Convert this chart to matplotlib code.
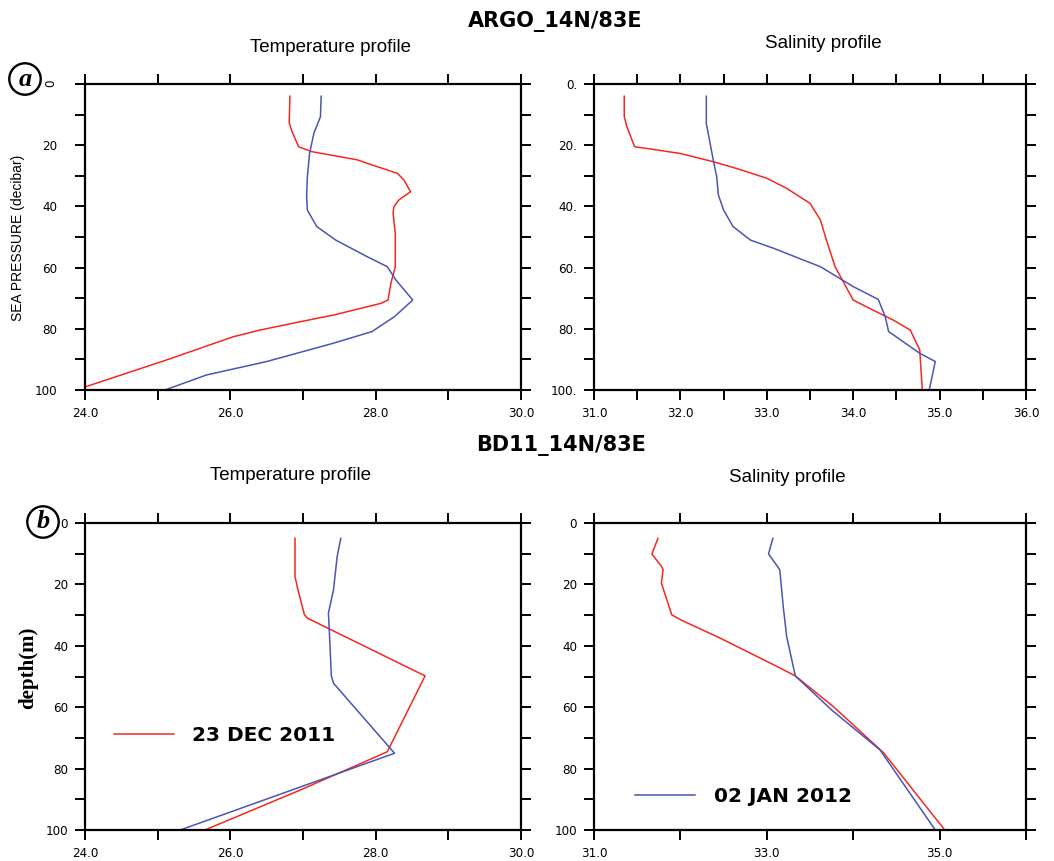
import numpy as np
import matplotlib
matplotlib.use("Agg")
import matplotlib.pyplot as plt

RED = "#f5281e"
BLUE = "#4a55b5"

# ARGO float, temperature (degC) vs pressure (decibar)
argo_t_red_p = [4, 12.6, 15.6, 20.5, 22.1, 24.8, 25.9, 29.2, 31.4, 35.2, 37.9, 40.1, 42.3,
                48.8, 59.7, 65.1, 70.6, 71.7, 75.5, 77.7, 80.4, 82.6, 90.2, 99.0]
argo_t_red = [26.82, 26.81, 26.85, 26.94, 27.12, 27.75, 27.88, 28.30, 28.39, 28.48, 28.32, 28.25,
              28.24, 28.27, 28.27, 28.21, 28.17, 28.07, 27.42, 26.96, 26.41, 26.04, 25.12, 24.0]
argo_t_blue_p = [4, 10.7, 16.1, 22.7, 30.3, 36.8, 41.2, 46.6, 51.0, 56.4, 59.7, 64.1, 70.6,
                 76.0, 80.9, 84.7, 90.7, 95.1, 100]
argo_t_blue = [27.25, 27.24, 27.15, 27.09, 27.06, 27.05, 27.06, 27.19, 27.45, 27.88, 28.16,
               28.28, 28.51, 28.26, 27.95, 27.42, 26.50, 25.67, 25.10]

# ARGO float, salinity (psu)
argo_s_red_p = [4, 10.7, 13.9, 20.5, 21.4, 22.7, 25.4, 27.6, 30.8, 34.1, 39.0, 44.4, 51.0,
                59.7, 70.6, 73.9, 77.1, 80.4, 86.9, 100]
argo_s_red = [31.35, 31.35, 31.38, 31.47, 31.69, 32.00, 32.38, 32.65, 33.00, 33.23, 33.50,
              33.62, 33.69, 33.79, 34.00, 34.23, 34.46, 34.66, 34.77, 34.80]
argo_s_blue_p = [4, 12.9, 24.8, 30.3, 36.3, 41.2, 46.6, 51.0, 53.7, 57.5, 59.7, 66.2, 70.4,
                 76.0, 80.9, 88.0, 90.7, 100]
argo_s_blue = [32.30, 32.30, 32.38, 32.42, 32.44, 32.50, 32.61, 32.81, 33.08, 33.42, 33.62,
               34.00, 34.29, 34.37, 34.41, 34.77, 34.95, 34.88]

# BD11 buoy, temperature vs depth (m)
bd_t_red_d = [5, 17.4, 21.7, 29.9, 31.0, 49.8, 74.5, 78.8, 87.0, 100]
bd_t_red = [26.89, 26.89, 26.93, 27.02, 27.06, 28.68, 28.16, 27.75, 26.96, 25.65]
bd_t_blue_d = [5, 10.9, 21.7, 29.3, 39.1, 49.8, 52.2, 75.0, 100]
bd_t_blue = [27.52, 27.47, 27.42, 27.35, 27.37, 27.39, 27.42, 28.26, 25.31]

# BD11 buoy, salinity
bd_s_red_d = [5, 10.1, 14.1, 15.2, 19.6, 29.9, 31.5, 37.5, 46.2, 49.8, 59.8, 74.8, 100]
bd_s_red = [31.74, 31.67, 31.78, 31.80, 31.78, 31.90, 32.00, 32.46, 33.08, 33.33, 33.77,
            34.35, 35.06]
bd_s_blue_d = [5, 10.1, 13.6, 15.2, 27.2, 37.0, 49.8, 60.9, 73.9, 100]
bd_s_blue = [33.07, 33.02, 33.11, 33.15, 33.19, 33.23, 33.33, 33.75, 34.31, 34.95]

label_red = "23 DEC 2011"
label_blue = "02 JAN 2012"

W, H = 1054, 861
fig = plt.figure(figsize=(W / 100, H / 100), dpi=100)


def px_axes(x0, y0, x1, y1):
    return fig.add_axes([x0 / W, 1 - y1 / H, (x1 - x0) / W, (y1 - y0) / H])


def style(ax, xlim, xticks, xlabels, ylabels, ypad=5):
    ax.set_xlim(*xlim)
    ax.set_ylim(100, 0)
    ax.set_xticks(xticks)
    ax.set_xticklabels(xlabels)
    ax.set_yticks(np.arange(0, 101, 10))
    ax.set_yticklabels(ylabels)
    for s in ax.spines.values():
        s.set_linewidth(1.6)
    ax.tick_params(axis="both", direction="out", length=7.2, width=1.4,
                   top=True, right=True, labelsize=9.5)
    ax.tick_params(axis="y", pad=ypad)
    ax.tick_params(axis="x", pad=5)
    for t in ax.get_xticklabels() + ax.get_yticklabels():
        t.set_fontstretch("condensed")


ax1 = px_axes(85, 84, 521, 390)
ax2 = px_axes(594, 84, 1026, 390)
ax3 = px_axes(85, 523, 521, 830)
ax4 = px_axes(594, 523, 1026, 830)

lw = 1.1
ax1.plot(argo_t_red, argo_t_red_p, color=RED, lw=lw)
ax1.plot(argo_t_blue, argo_t_blue_p, color=BLUE, lw=lw)
ax2.plot(argo_s_red, argo_s_red_p, color=RED, lw=lw)
ax2.plot(argo_s_blue, argo_s_blue_p, color=BLUE, lw=lw)
ax3.plot(bd_t_red, bd_t_red_d, color=RED, lw=lw, label=label_red)
ax3.plot(bd_t_blue, bd_t_blue_d, color=BLUE, lw=lw)
ax4.plot(bd_s_red, bd_s_red_d, color=RED, lw=lw)
ax4.plot(bd_s_blue, bd_s_blue_d, color=BLUE, lw=lw, label=label_blue)

yl_plain = ["0", "", "20", "", "40", "", "60", "", "80", "", "100"]
yl_dot = ["0.", "", "20.", "", "40.", "", "60.", "", "80.", "", "100."]
t_ticks = np.arange(24, 30.01, 1)
t_labels = ["24.0", "", "26.0", "", "28.0", "", "30.0"]

style(ax1, (24, 30), t_ticks, t_labels, yl_plain, ypad=13)
ax1.get_yticklabels()[0].set_rotation(90)
style(ax2, (31, 36), np.arange(31, 36.01, 0.5),
      ["31.0", "", "32.0", "", "33.0", "", "34.0", "", "35.0", "", "36.0"], yl_dot)
style(ax3, (24, 30), t_ticks, t_labels, yl_plain)
style(ax4, (31, 36), np.arange(31, 36.01, 1),
      ["31.0", "", "33.0", "", "35.0", ""], yl_plain)

sub = dict(fontsize=13.5, family="Liberation Sans", ha="center", va="center")
fig.text(555 / W, 1 - 21 / H, "ARGO_14N/83E", fontsize=15, fontweight="bold",
         ha="center", va="center")
fig.text(561 / W, 1 - 446 / H, "BD11_14N/83E", fontsize=15, fontweight="bold",
         ha="center", va="center")
fig.text(330 / W, 1 - 47 / H, "Temperature profile", **sub)
fig.text(823 / W, 1 - 43 / H, "Salinity profile", **sub)
fig.text(290 / W, 1 - 476 / H, "Temperature profile", **sub)
fig.text(787 / W, 1 - 477 / H, "Salinity profile", **sub)

fig.text(18 / W, 1 - 238 / H, "SEA PRESSURE (decibar)", rotation=90, fontsize=10,
         family="Liberation Sans", ha="center", va="center")
fig.text(28 / W, 1 - 668 / H, "depth(m)", rotation=90, fontsize=15, fontweight="bold",
         family="Liberation Serif", ha="center", va="center")

circ = dict(boxstyle="circle,pad=0.16", fc="white", ec="black", lw=1.7)
fig.text(25 / W, 1 - 79 / H, "a", fontsize=19, fontweight="bold", fontstyle="italic",
         family="Liberation Serif", ha="center", va="center", bbox=circ)
fig.text(43 / W, 1 - 522 / H, "b", fontsize=19, fontweight="bold", fontstyle="italic",
         family="Liberation Serif", ha="center", va="center", bbox=circ)

leg_kw = dict(frameon=False, handlelength=3.0, handletextpad=0.9,
              borderpad=0, borderaxespad=0, loc="center left",
              prop={"weight": "bold", "size": 14.5})
ax3.legend(bbox_to_anchor=(0.066, 0.309), **leg_kw)
ax4.legend(bbox_to_anchor=(0.095, 0.1075), **leg_kw)

fig.savefig("out.png", dpi=100, facecolor="white")
